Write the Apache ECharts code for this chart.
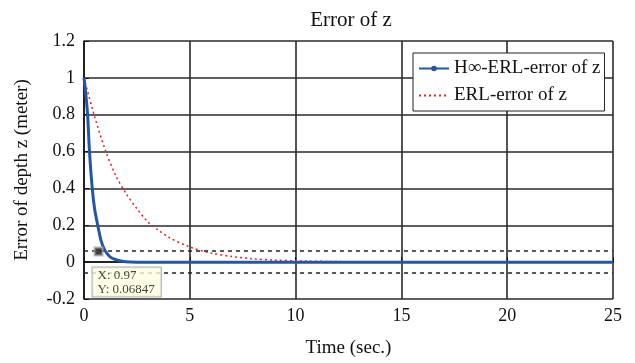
<!DOCTYPE html>
<html>
<head>
<meta charset="utf-8">
<script src="https://cdn.jsdelivr.net/npm/echarts@6/dist/echarts.min.js"></script>
<style>html,body{margin:0;padding:0;background:#fff;}#c{width:635px;height:363px;}</style>
</head>
<body>
<div id="c"></div>
<script>
// Data
var hinfTime  = [0, 0.08, 0.17, 0.26, 0.39, 0.5, 0.65, 0.8, 0.97, 1.2, 1.4, 1.8, 2.2, 3, 5, 10, 15, 20, 25];
var hinfError = [1, 0.92, 0.8, 0.6, 0.4, 0.29, 0.2, 0.12, 0.068, 0.032, 0.018, 0.005, 0.001, 0, 0, 0, 0, 0, 0];
var erlTime   = [0, 0.5, 1, 1.5, 2, 2.5, 3, 3.5, 4, 5, 6, 7, 8, 9, 10, 12, 15, 20, 25];
var erlError  = [1, 0.79, 0.61, 0.47, 0.37, 0.29, 0.22, 0.175, 0.135, 0.082, 0.05, 0.03, 0.018, 0.011, 0.007, 0.003, 0.001, 0, 0];
var boundValues = [0.06, -0.06];
var tipPoint = [0.97, 0.06847];
var seriesNames = ['H\u221e-ERL-error of z', 'ERL-error of z'];

function zip(a, b) { return a.map(function (v, i) { return [v, b[i]]; }); }

var font = 'Liberation Serif';
var chart = echarts.init(document.getElementById('c'), null, {renderer: 'canvas'});
chart.setOption({
  animation: false,
  backgroundColor: '#fff',
  title: {
    text: 'Error of z', left: 346, top: 5, textAlign: 'center',
    textStyle: {fontFamily: font, fontSize: 21, fontWeight: 'normal', color: '#111'}
  },
  grid: {left: 84, right: 22, top: 41, bottom: 62},
  legend: {
    orient: 'vertical', left: 413, top: 53,
    backgroundColor: '#fff', borderColor: '#222', borderWidth: 1,
    padding: [6, 4, 6, 5], itemWidth: 30, itemHeight: 7, itemGap: 8,
    textStyle: {fontFamily: font, fontSize: 19, color: '#111'},
    data: [
      {name: seriesNames[0]},
      {name: seriesNames[1], itemStyle: {opacity: 0}}
    ]
  },
  xAxis: {
    type: 'value', min: 0, max: 25, interval: 5,
    name: 'Time (sec.)', nameLocation: 'middle', nameGap: 40,
    nameTextStyle: {fontFamily: font, fontSize: 19, color: '#111'},
    axisLine: {show: true, lineStyle: {color: '#111', width: 1.5}},
    axisTick: {show: true, inside: true, length: 5, lineStyle: {color: '#111'}},
    axisLabel: {fontFamily: font, fontSize: 18, color: '#111', margin: 8},
    splitLine: {show: true, lineStyle: {color: '#2a2a2a', width: 1.6}}
  },
  yAxis: {
    type: 'value', min: -0.2, max: 1.2, interval: 0.2,
    name: 'Error of depth z (meter)', nameLocation: 'middle', nameGap: 52,
    nameTextStyle: {fontFamily: font, fontSize: 19, color: '#111'},
    axisLine: {show: true, lineStyle: {color: '#111', width: 1.5}},
    axisTick: {show: true, inside: true, length: 5, lineStyle: {color: '#111'}},
    axisLabel: {fontFamily: font, fontSize: 18, color: '#111', margin: 9,
      formatter: function (v) { return String(Math.round(v * 10) / 10); }},
    splitLine: {show: true, lineStyle: {color: '#2a2a2a', width: 1.6}}
  },
  series: [
    {
      name: 'bounds', type: 'line', data: [], silent: true,
      markLine: {
        silent: true, symbol: 'none', label: {show: false},
        lineStyle: {color: '#222', type: [4, 4], width: 1.5},
        data: boundValues.map(function (v) { return {yAxis: v}; })
      }
    },
    {
      name: seriesNames[1], type: 'line', data: zip(erlTime, erlError),
      smooth: 0.3, symbol: 'none', z: 3,
      lineStyle: {color: '#e8232a', width: 1.5, type: [2, 3]},
      itemStyle: {color: '#e8232a'}
    },
    {
      name: seriesNames[0], type: 'line', data: zip(hinfTime, hinfError),
      smooth: 0.3, symbol: 'circle', symbolSize: 4, showSymbol: false, z: 4,
      lineStyle: {color: '#2456a6', width: 3},
      itemStyle: {color: '#2456a6'}
    },
    {
      name: 'tip', type: 'scatter', data: [tipPoint], z: 6,
      symbol: 'rect', symbolSize: 8, symbolOffset: [-6, 2],
      itemStyle: {color: '#111', borderColor: '#aaa', borderWidth: 2},
      label: {
        show: true, position: 'bottom', align: 'left', offset: [-6, 6],
        formatter: function (p) { return 'X: ' + p.value[0] + '\nY: ' + p.value[1]; },
        fontFamily: font, fontSize: 13, color: '#111', lineHeight: 14,
        backgroundColor: '#ffffe1', borderColor: '#999', borderWidth: 1,
        padding: [1, 6, 0, 5]
      }
    }
  ]
});
</script>
</body>
</html>
